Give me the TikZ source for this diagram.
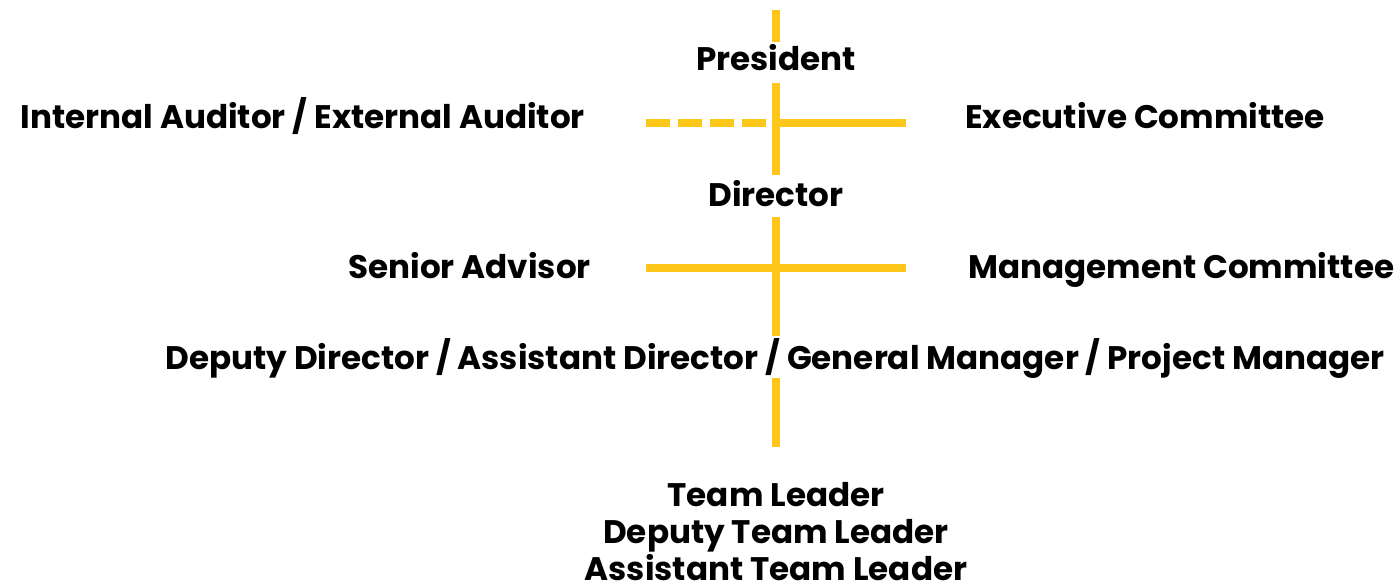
\documentclass[tikz,border=0pt]{standalone}
\usepackage{fontspec}
\setmainfont{Poppins}
\usetikzlibrary{positioning}
\definecolor{gold}{HTML}{FFC61A}

\begin{document}
\begin{tikzpicture}[x=1pt, y=1pt,
    post/.style={font=\bfseries\fontsize{32.6}{38}\selectfont, inner sep=0pt, text height=23pt, text depth=0pt, anchor=base},
    link/.style={draw=gold, line width=8pt},
    dotlink/.style={link, dash pattern=on 24pt off 8pt}]

    \useasboundingbox (0,0) rectangle (1394,-587);

    % main line
    \coordinate (top) at (776,-10);
    \node[post] (pres) at (776,-70) {President};
    \node[post] (dir) at (776,-206) {Director};
    \node[post] (dep) at (775,-369) {Deputy Director / Assistant Director / General Manager / Project Manager};
    \node[post] (lead) at (776,-506) {Team Leader};
    \node[post, below=14pt of lead] (deplead) {Deputy Team Leader};
    \node[post, below=14pt of deplead] (asslead) {Assistant Team Leader};

    \coordinate (j1) at (776,-123);
    \coordinate (j2) at (776,-268);

    % side posts
    \node[post, anchor=base east] (aud) at (585,-128) {Internal Auditor / External Auditor};
    \node[post, anchor=base west] (exec) at (965,-128) {Executive Committee};
    \node[post, anchor=base east] (adv) at (591,-278) {Senior Advisor};
    \node[post, anchor=base west] (mgmt) at (968,-278) {Management Committee};

    \draw[link, shorten >=5pt] (top) -- (pres.north);
    \draw[link, shorten <=13pt, shorten >=8pt] (pres.south) -- (pres.south |- dir.north);
    \draw[link, shorten <=11pt, shorten >=10pt] (dir.south) -- (dir.south |- dep.north);
    \draw[link, shorten <=9pt, shorten >=36pt] (dir.south |- dep.south) -- (dir.south |- lead.north);

    \draw[dotlink, shorten <=61pt] (aud.east |- j1) -- (j1);
    \draw[link, shorten >=59pt] (j1) -- (exec.west |- j1);
    \draw[link, shorten <=55pt] (adv.east |- j2) -- (j2);
    \draw[link, shorten >=62pt] (j2) -- (mgmt.west |- j2);

\end{tikzpicture}
\end{document}
